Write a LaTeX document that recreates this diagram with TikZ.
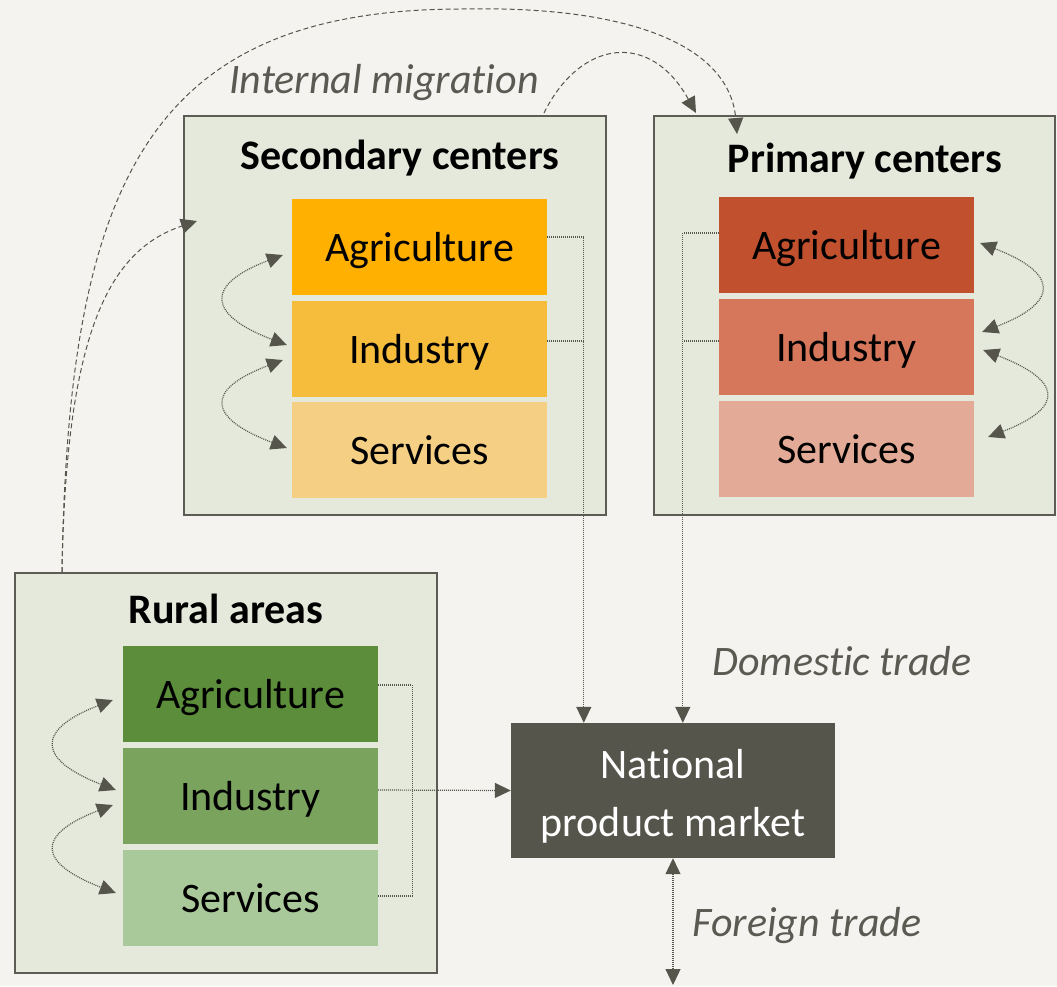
\documentclass[tikz,border=0pt]{standalone}
\usepackage{fontspec}
\setmainfont{Carlito}[Ligatures=NoCommon]
\usetikzlibrary{arrows.meta,calc}

\definecolor{bg}{HTML}{F4F3EF}
\definecolor{panel}{HTML}{E5E9DC}
\definecolor{rim}{HTML}{5C5C54}
\definecolor{ink}{HTML}{55554C}
\definecolor{lbl}{HTML}{5A5A52}
\definecolor{secA}{HTML}{FFB000}
\definecolor{secI}{HTML}{F6BC3C}
\definecolor{secS}{HTML}{F5D084}
\definecolor{priA}{HTML}{C0502E}
\definecolor{priI}{HTML}{D6765A}
\definecolor{priS}{HTML}{E3AA97}
\definecolor{rurA}{HTML}{5C8D3A}
\definecolor{rurI}{HTML}{7AA35D}
\definecolor{rurS}{HTML}{AAC99B}
\definecolor{mkt}{HTML}{55554C}

\tikzset{
  region/.style={draw=rim, line width=2pt, fill=panel, minimum height=399pt, inner sep=0pt},
  sector/.style={fill=#1, minimum width=255pt, minimum height=96pt, inner sep=0pt,
    text height=29pt, text depth=0pt, font=\fontsize{42}{50}\selectfont},
  heading/.style={anchor=base, inner sep=0pt, font=\fontsize{42}{50}\selectfont\bfseries},
  flowlabel/.style={anchor=base, inner sep=0pt, text=lbl, font=\fontsize{42}{50}\selectfont\itshape},
  headtip/.tip={Triangle[length=16pt,width=15pt]},
  migr/.style={draw=ink, line width=1pt, dash pattern=on 5pt off 3pt},
  trade/.style={draw=ink, line width=1.2pt, dash pattern=on 1pt off 1pt},
}

\begin{document}
\begin{tikzpicture}[x=1pt,y=-1pt]
  \fill[bg] (0,0) rectangle (1057,986);
  \useasboundingbox (0,0) rectangle (1057,986);

  % regional panels
  \node[region, minimum width=422pt] (sec) at (395,315.5) {};
  \node[region, minimum width=401pt] (pri) at (854.5,315.5) {};
  \node[region, minimum width=422pt, minimum height=400pt] (rur) at (226,773) {};

  \node[heading] (sectitle) at (400,169) {Secondary centers};
  \node[heading] (prititle) at (865,172) {Primary centers};
  \node[heading] (rurtitle) at (226,623) {Rural areas};

  % sectors
  \node[sector=secA] (sa) at (419.5,247) {Agriculture};
  \node[sector=secI] (si) at (419.5,348.5) {Industry};
  \node[sector=secS] (ss) at (419.5,449.5) {Services};

  \node[sector=priA] (pa) at (846.5,245) {Agriculture};
  \node[sector=priI] (pi) at (846.5,347) {Industry};
  \node[sector=priS] (ps) at (846.5,449) {Services};

  \node[sector=rurA] (ra) at (250.5,694) {Agriculture};
  \node[sector=rurI] (ri) at (250.5,796) {Industry};
  \node[sector=rurS] (rs) at (250.5,898) {Services};

  % national market
  \node[fill=mkt, minimum width=324pt, minimum height=135pt, inner sep=0pt] (nat) at (673,790.5) {};
  \node[text=white, align=center, inner sep=0pt, font=\fontsize{42}{58}\selectfont]
    (natlabel) at ($(nat.center)+(0,5.5)$) {National\\product market};

  % exchanges between sectors
  \draw[trade, headtip-headtip] ($(sa.west)+(-9,8)$) .. controls +(-79,30) and +(-79,-30) .. ($(si.west)+(-5,-3.5)$);
  \draw[trade, headtip-headtip] ($(si.west)+(-9,11.5)$) .. controls +(-79,30) and +(-79,-30) .. ($(ss.west)+(-5,-1.5)$);
  \draw[trade, headtip-headtip] ($(pa.east)+(6,-2)$) .. controls +(78,30) and +(78,-30) .. ($(pi.east)+(8,-15)$);
  \draw[trade, headtip-headtip] ($(pi.east)+(9,3)$) .. controls +(78,30) and +(78,-30) .. ($(ps.east)+(14,-12)$);
  \draw[trade, headtip-headtip] ($(ra.west)+(-10,6)$) .. controls +(-78,30) and +(-78,-30) .. ($(ri.west)+(-7,-6)$);
  \draw[trade, headtip-headtip] ($(ri.west)+(-10,9)$) .. controls +(-78,30) and +(-78,-30) .. ($(rs.west)+(-7,-5)$);

  % domestic trade
  \draw[trade, -headtip] ([yshift=10pt]sa.east) -| ([xshift=73pt]nat.north west);
  \draw[trade] ([yshift=7.5pt]si.east) -- ++(37,0);
  \draw[trade, -headtip] ([yshift=12pt]pa.west) -| ([xshift=172pt]nat.north west);
  \draw[trade] ([yshift=6pt]pi.west) -- ++(-36,0);
  \draw[trade] ([yshift=9pt]ra.east) -- ++(34,0) |- ([yshift=2pt]rs.east);
  \draw[trade, -headtip] ([yshift=6pt]ri.east) -- (nat.west);

  % foreign trade
  \coordinate (abroad) at (673,985);
  \draw[trade, headtip-headtip] (nat.south) -- (abroad);

  % internal migration
  \draw[migr, -headtip] ([xshift=48pt]rur.north west) .. controls (66,330) and (110,250) .. ($(sec.north west)+(14,106)$);
  \draw[migr, -headtip] ([xshift=48pt]rur.north west) .. controls (68,180) and (150,10) .. (460,9)
    .. controls (640,5) and (730,50) .. ($(pri.north west)+(84,19)$);
  \draw[migr, -headtip] ($(sec.north east)+(-63,-2)$) .. controls (580,40) and (650,30) .. ($(pri.north west)+(43,-2)$);

  % flow labels
  \node[flowlabel] (migrlabel) at (384,93) {Internal migration};
  \node[flowlabel] (domlabel) at (842,675) {Domestic trade};
  \node[flowlabel] (forlabel) at (807,936) {Foreign trade};
\end{tikzpicture}
\end{document}
